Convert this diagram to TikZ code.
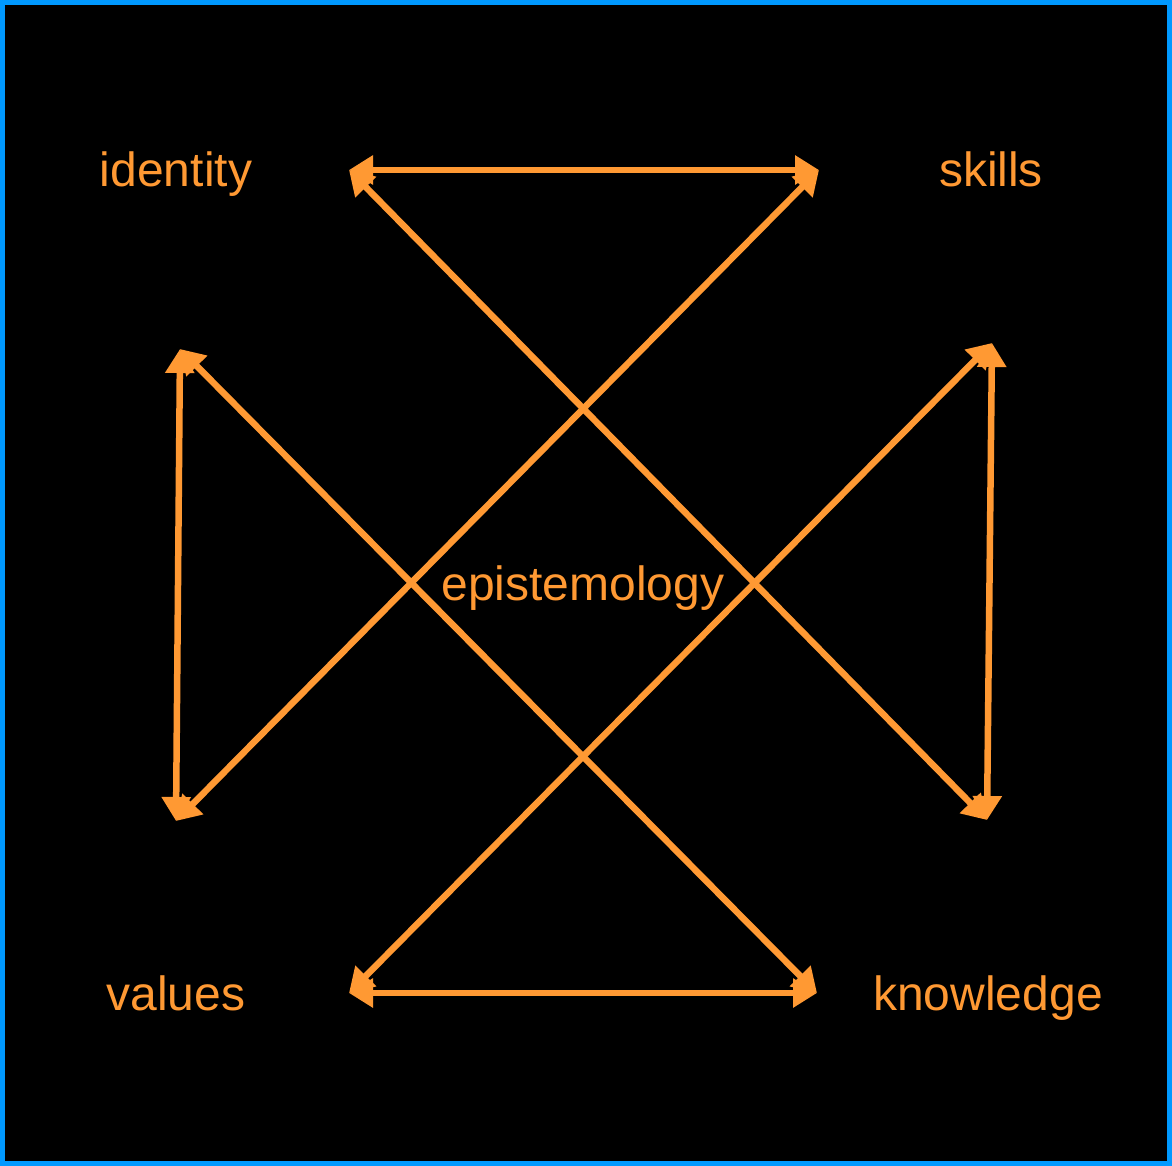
\documentclass[tikz,border=0pt]{standalone}
\usepackage{fontspec}
\setmainfont{Liberation Sans}
\usetikzlibrary{arrows.meta}
\definecolor{ora}{HTML}{FF9933}
\definecolor{frame}{HTML}{0099FF}

\begin{document}
\begin{tikzpicture}[x=1pt,y=-1pt,
	link/.style={{Triangle[length=24pt,width=28pt]}-{Triangle[length=24pt,width=28pt]},color=ora,line width=6.5pt},
	word/.style={text=ora,font=\fontsize{48}{58}\selectfont,inner sep=0pt,anchor=base}]
	\path[use as bounding box,fill=black,draw=frame,line width=5pt] (2.5,2.5) rectangle (1169.5,1163.5);
	\coordinate (c_1) at (349,170);
	\coordinate (c_2) at (819,170);
	\coordinate (c_3) at (180,349);
	\coordinate (c_4) at (176,821);
	\coordinate (c_5) at (992,343);
	\coordinate (c_6) at (987,820);
	\coordinate (c_7) at (349,993);
	\coordinate (c_8) at (817,993);
	\node[word] (identity) at (176,187) {identity};
	\node[word] (skills) at (991,187) {skills};
	\node[word] (values) at (176,1010) {values};
	\node[word] (knowledge) at (988,1010) {knowledge};
	\node[word] (epis) at (583,600) {epistemology};
	\draw[link] (c_1) -- (c_2);
	\draw[link] (c_1) -- (c_6);
	\draw[link] (c_2) -- (c_4);
	\draw[link] (c_3) -- (c_4);
	\draw[link] (c_3) -- (c_8);
	\draw[link] (c_5) -- (c_7);
	\draw[link] (c_5) -- (c_6);
	\draw[link] (c_7) -- (c_8);
\end{tikzpicture}
\end{document}
